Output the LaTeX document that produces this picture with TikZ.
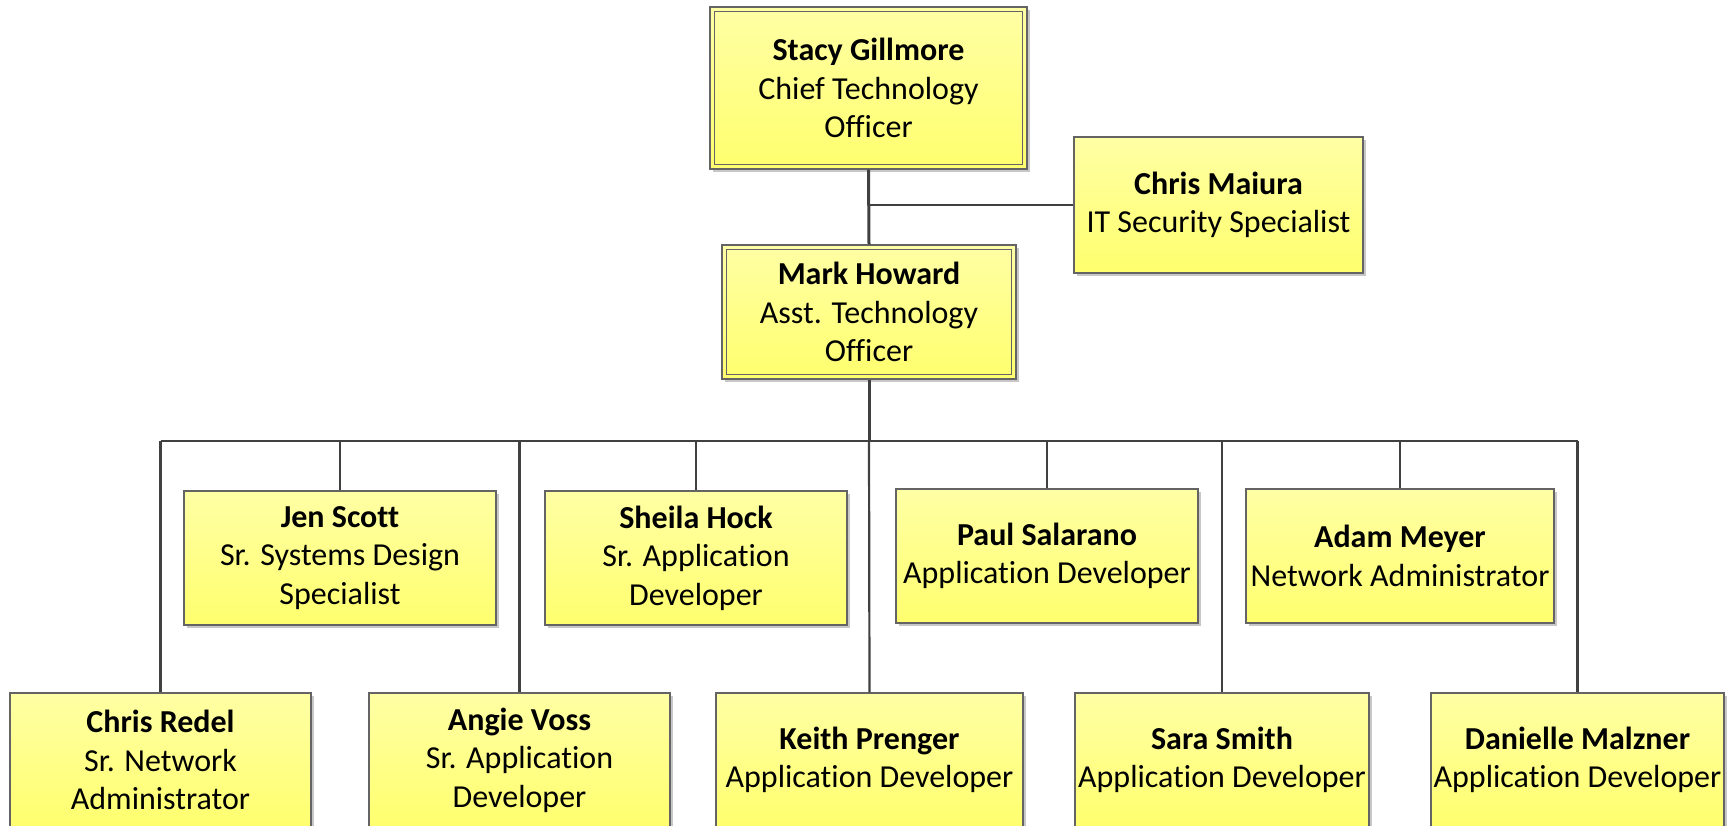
\documentclass[tikz,border=0pt]{standalone}
\usepackage{fontspec}
\setmainfont{Carlito}[Ligatures=NoCommon]
\usetikzlibrary{shadows}
\definecolor{ytop}{RGB}{255,255,165}
\definecolor{ybot}{RGB}{255,255,110}
\definecolor{boxline}{RGB}{100,100,100}
\definecolor{conn}{RGB}{64,64,64}
\tikzset{
  card/.style={draw=boxline, line width=1.2pt, top color=ytop, bottom color=ybot,
    align=center, inner sep=0pt, font=\fontsize{32}{38.5}\selectfont,
    drop shadow={shadow xshift=3pt, shadow yshift=-3pt, opacity=0.22, fill=black}},
  link/.style={draw=conn, line width=2.2pt},
  mainlink/.style={draw=conn, line width=3pt},
  innerframe/.style={draw=boxline, line width=1pt}
}
\begin{document}
\begin{tikzpicture}[x=1pt,y=-1pt]
\useasboundingbox (0,0) rectangle (1735,825);
\clip (0,0) rectangle (1735,825);
% top
\node[card, minimum width=317pt, minimum height=162pt] (stacy) at (868.5,88)
  {\textbf{Stacy Gillmore}\\Chief Technology\\Officer};
\node[card, minimum width=289pt, minimum height=136pt] (maiura) at (1218.5,205)
  {\textbf{Chris Maiura}\\IT Security Specialist};
\node[card, minimum width=294pt, minimum height=134pt] (mark) at (869,312)
  {\textbf{Mark Howard}\\Asst. Technology\\Officer};
% row 2
\node[card, minimum width=312pt, minimum height=134pt] (jen) at (340,558)
  {\textbf{Jen Scott}\\Sr. Systems Design\\Specialist};
\node[card, minimum width=302pt, minimum height=134pt] (sheila) at (696,558)
  {\textbf{Sheila Hock}\\Sr. Application\\Developer};
\node[card, minimum width=302pt, minimum height=134pt] (paul) at (1047,556)
  {\textbf{Paul Salarano}\\Application Developer};
\node[card, minimum width=308pt, minimum height=134pt] (adam) at (1400,556)
  {\textbf{Adam Meyer}\\Network Administrator};
% row 3
\node[card, minimum width=301pt, minimum height=134pt] (redel) at (160.5,760)
  {\textbf{Chris Redel}\\Sr. Network\\Administrator};
\node[card, minimum width=301pt, minimum height=134pt] (angie) at (519.5,760)
  {\textbf{Angie Voss}\\Sr. Application\\Developer};
\node[card, minimum width=307pt, minimum height=134pt] (keith) at (869.5,760)
  {\textbf{Keith Prenger}\\Application Developer};
\node[card, minimum width=294pt, minimum height=134pt] (sara) at (1222,760)
  {\textbf{Sara Smith}\\Application Developer};
\node[card, minimum width=293pt, minimum height=134pt] (danielle) at (1577.5,760)
  {\textbf{Danielle Malzner}\\Application Developer};
% inner frames
\draw[innerframe] ([shift={(5,5)}]stacy.north west) rectangle ([shift={(-5,-5)}]stacy.south east);
\draw[innerframe] ([shift={(5,5)}]mark.north west) rectangle ([shift={(-5,-5)}]mark.south east);
% connectors
\coordinate (bus) at (0,441);
\draw[mainlink] (stacy.south) -- (mark.north);
\draw[link] (stacy.south |- maiura.west) -- (maiura.west);
\draw[mainlink] (mark.south) -- (mark.south |- bus);
\draw[link] (mark.south |- bus) -- (keith.north);
\draw[link] (redel.north |- bus) -- (danielle.north |- bus);
\foreach \n in {redel,jen,angie,sheila,paul,sara,adam,danielle}
  \draw[link] (\n.north |- bus) -- (\n.north);
\end{tikzpicture}
\end{document}
